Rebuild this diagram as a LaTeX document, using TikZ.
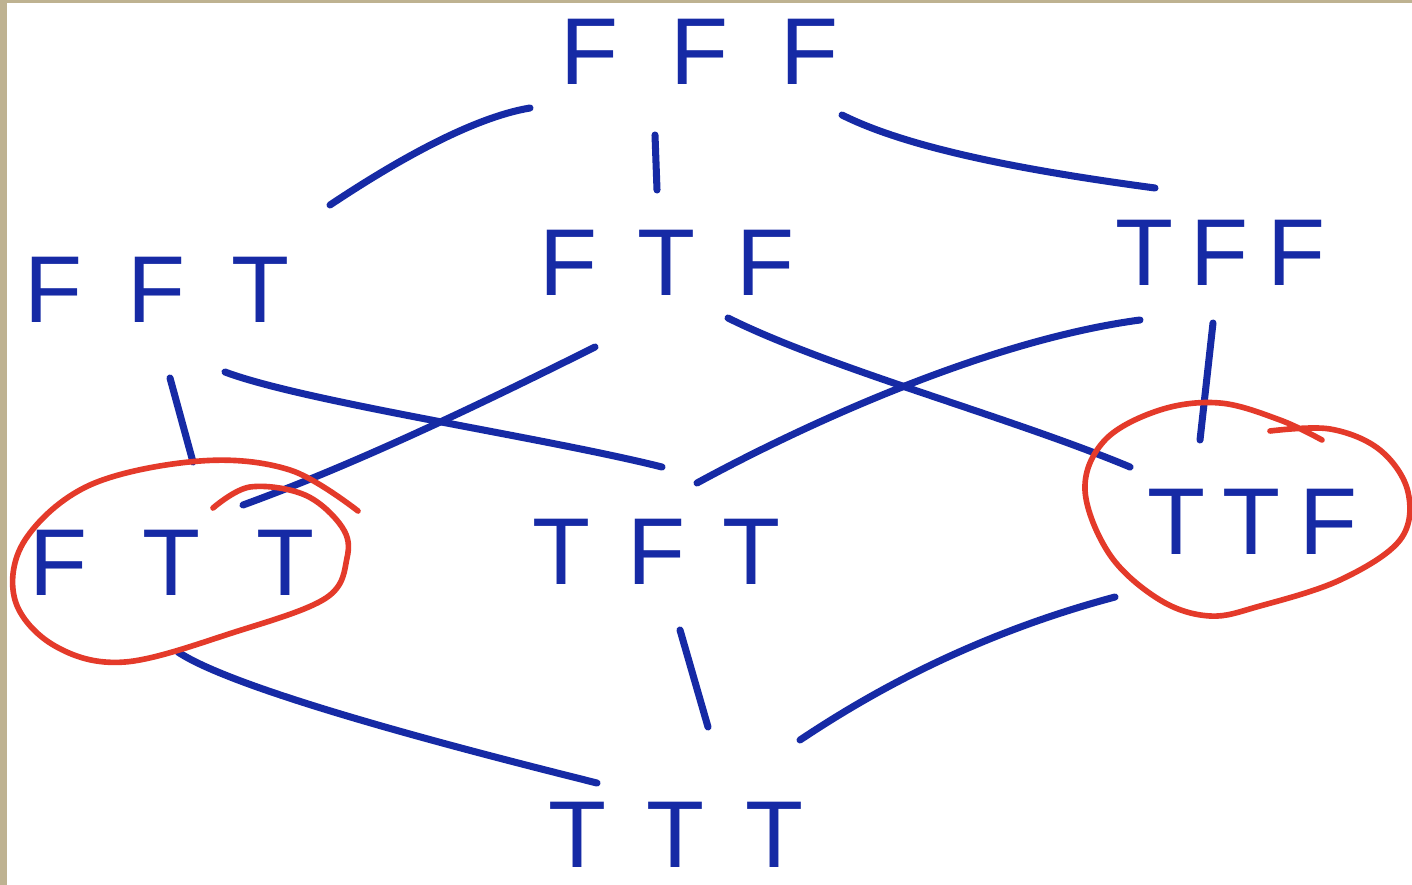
\documentclass[tikz,border=0pt]{standalone}
\usepackage{fontspec}
\setmainfont{Liberation Sans}
\definecolor{penblue}{RGB}{22,42,165}
\definecolor{penred}{RGB}{228,58,42}
\definecolor{tanbg}{RGB}{190,178,145}
\newcommand{\trip}[4]{#1\hspace{#4}#2\hspace{#4}#3}
\begin{document}
\begin{tikzpicture}[x=0.01cm,y=-0.01cm,
  lbl/.style={text=penblue,font=\fontsize{27}{30}\selectfont,inner sep=0pt},
  edge/.style={draw=penblue,line width=2pt,line cap=round,line join=round},
  ring/.style={draw=penred,line width=1.6pt,line cap=round,line join=round}]
\useasboundingbox (0,0) rectangle (1412,885);
\fill[tanbg] (0,0) rectangle (1412,885);
\fill[white] (7,3) rectangle (1412,885);

\node[lbl] (FFF) at (700,52) {\trip{F}{F}{F}{0.52cm}};
\node[lbl] (FFT) at (157,290) {\trip{F}{F}{T}{0.45cm}};
\node[lbl] (FTF) at (667,263) {\trip{F}{T}{F}{0.4cm}};
\node[lbl] (TFF) at (1220,253) {\trip{T}{F}{F}{0.18cm}};
\node[lbl] (FTT) at (172,563) {\trip{F}{T}{T}{0.55cm}};
\node[lbl] (TFT) at (657,552) {\trip{T}{F}{T}{0.37cm}};
\node[lbl] (TTF) at (1252,522) {\trip{T}{T}{F}{0.18cm}};
\node[lbl] (TTT) at (676,835) {\trip{T}{T}{T}{0.4cm}};

% connectors
\draw[edge] ([shift={(-170,56)}]FFF.center) .. controls +(-60,10) and +(60,-40) .. ([shift={(173,-85)}]FFT.center);
\draw[edge] ([shift={(-45,83)}]FFF.center) -- ([shift={(-10,-73)}]FTF.center);
\draw[edge] ([shift={(142,63)}]FFF.center) .. controls +(60,30) and +(-150,-20) .. ([shift={(-65,-65)}]TFF.center);
\draw[edge] ([shift={(13,88)}]FFT.center) -- ([shift={(21,-101)}]FTT.center);
\draw[edge] ([shift={(68,82)}]FFT.center) .. controls +(80,30) and +(-120,-30) .. ([shift={(5,-85)}]TFT.center);
\draw[edge] ([shift={(-72,84)}]FTF.center) .. controls +(-120,60) and +(110,-40) .. ([shift={(71,-58)}]FTT.center);
\draw[edge] ([shift={(61,55)}]FTF.center) .. controls +(100,50) and +(-120,-50) .. ([shift={(-122,-55)}]TTF.center);
\draw[edge] ([shift={(-80,67)}]TFF.center) .. controls +(-150,20) and +(110,-60) .. ([shift={(40,-69)}]TFT.center);
\draw[edge] ([shift={(-7,70)}]TFF.center) -- ([shift={(-52,-82)}]TTF.center);
\draw[edge] ([shift={(6,89)}]FTT.center) .. controls +(60,40) and +(-120,-30) .. ([shift={(-79,-52)}]TTT.center);
\draw[edge] ([shift={(23,78)}]TFT.center) -- ([shift={(32,-108)}]TTT.center);
\draw[edge] ([shift={(-137,75)}]TTF.center) .. controls +(-150,40) and +(60,-40) .. ([shift={(124,-95)}]TTT.center);

% red rings
\draw[ring] plot[smooth,tension=0.6] coordinates {(213,508) (250,487) (305,495) (342,527) (347,558) (326,598) (235,632) (125,662) (55,646) (15,600) (25,540) (90,485) (200,461) (290,470) (358,511)};
\draw[ring] plot[smooth,tension=0.6] coordinates {(1270,431) (1330,429) (1380,450) (1408,492) (1400,540) (1340,580) (1260,606) (1210,616) (1160,600) (1110,555) (1085,490) (1105,440) (1160,410) (1220,403) (1280,420) (1322,440)};
\end{tikzpicture}
\end{document}
